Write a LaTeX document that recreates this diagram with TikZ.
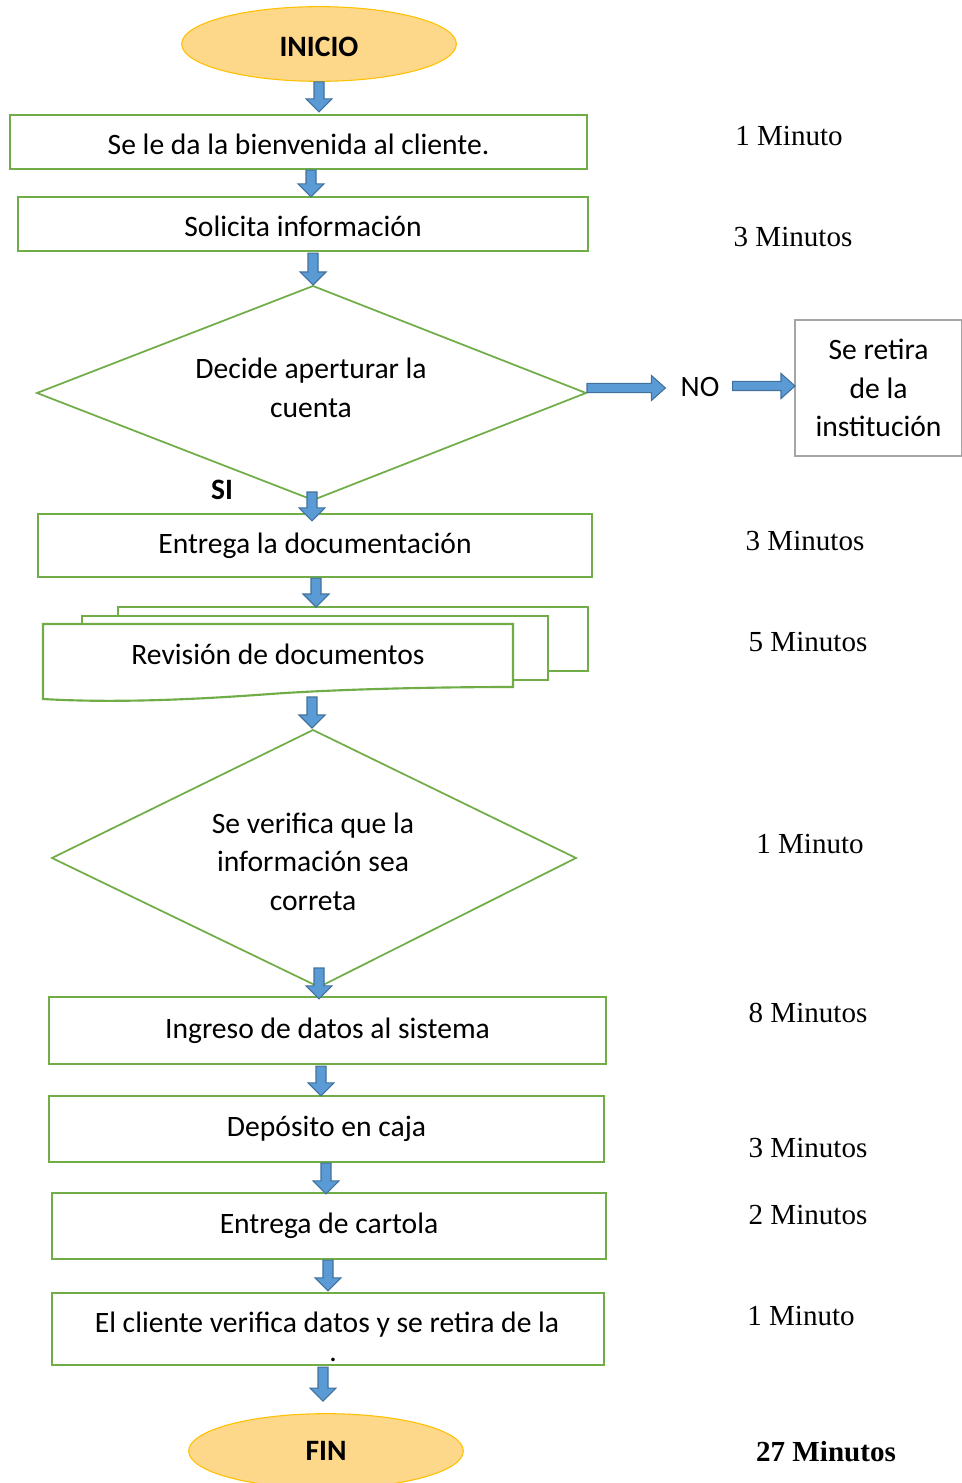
\documentclass[tikz,border=0pt]{standalone}
\usepackage{fontspec}
\setmainfont{Liberation Serif}
\newfontfamily\calfont{Carlito}
\usetikzlibrary{shapes.geometric,calc}
\definecolor{gbord}{HTML}{70AD47}
\definecolor{bfill}{HTML}{5B9BD5}
\definecolor{bline}{HTML}{41719C}
\definecolor{ofill}{HTML}{FED88A}
\definecolor{oline}{HTML}{FFC000}
\definecolor{grayline}{HTML}{A5A5A5}
\tikzset{
  cfont/.style={font=\calfont\fontsize{22.2}{29}\selectfont},
  procbox/.style={draw=gbord, line width=1.6pt, fill=white, cfont, align=center, inner sep=0pt},
  lowtext/.style={text height=18.5pt, text depth=0pt},
  decline/.style={draw=gbord, line width=1.3pt, fill=white, line join=miter},
  termbox/.style={ellipse, draw=oline, line width=0.8pt, fill=ofill, font=\calfont\bfseries\fontsize{22.2}{29}\selectfont, inner sep=0pt, minimum width=206pt, minimum height=56pt},
  blockarr/.style={draw=bline, fill=bfill, line width=0.8pt, line join=miter},
  timelbl/.style={font=\fontsize{21.8}{26}\selectfont, inner sep=0pt},
  plaintxt/.style={cfont, inner sep=0pt, align=center},
  docline/.style={draw=gbord, line width=1.6pt, fill=white, line join=miter},
}
% vertical block arrow: x, from, dy1, to, dy2 (px, positive = down)
\newcommand\varr[5]{%
  \draw[blockarr] let \p1=($(#2)+(0,#3)$), \p2=($(#4)+(0,#5)$), \p3=(#1,0) in
    (\x3-3.75pt,\y1) -- (\x3+3.75pt,\y1) -- (\x3+3.75pt,\y2+9.75pt) -- (\x3+9.75pt,\y2+9.75pt)
    -- (\x3,\y2) -- (\x3-9.75pt,\y2+9.75pt) -- (\x3-3.75pt,\y2+9.75pt) -- cycle;}
% horizontal block arrow: y, from, dx1, to, dx2
\newcommand\harr[5]{%
  \draw[blockarr] let \p1=($(#2)+(#3,0)$), \p2=($(#4)+(#5,0)$), \p3=(0,#1) in
    (\x1,\y3+3.4pt) -- (\x2-10.5pt,\y3+3.4pt) -- (\x2-10.5pt,\y3+9.4pt) -- (\x2,\y3)
    -- (\x2-10.5pt,\y3-9.4pt) -- (\x2-10.5pt,\y3-3.4pt) -- (\x1,\y3-3.4pt) -- cycle;}
\begin{document}
\begin{tikzpicture}[x=0.75pt,y=-0.75pt]
\useasboundingbox (0,0) rectangle (961,1483);
\fill[white] (0,0) rectangle (961,1483);

% nodes
\node[termbox, lowtext] (ini) at (319,44) {INICIO};
\node[procbox, lowtext, minimum width=432.75pt, minimum height=40.5pt] (b1) at (298.5,142) {Se le da la bienvenida al cliente.};
\node[procbox, lowtext, minimum width=427.5pt, minimum height=40.5pt] (b2) at (303,224) {Solicita información};

% decision 1
\coordinate (d1n) at (313,286);
\coordinate (d1e) at (586,393);
\coordinate (d1s) at (313,500);
\coordinate (d1w) at (37,393);
\draw[decline] (d1n) -- (d1e) -- (d1s) -- (d1w) -- cycle;
\node[plaintxt] (d1) at (311,387.5) {Decide aperturar la\\cuenta};
\node[plaintxt, font=\calfont\bfseries\fontsize{22.2}{29}\selectfont] (si) at (222,490) {SI};

\node[procbox, minimum width=415.5pt, minimum height=47.25pt] (b3) at (315,545.5) {Entrega la documentación};

% multi-document
\draw[docline] (118,616) -- (118,607) -- (588,607) -- (588,671) -- (548,671);
\draw[docline] (82,624) -- (82,616) -- (548,616) -- (548,680) -- (513,680);
\draw[docline] (43,624) -- (513,624) -- (513,687)
  .. controls (440,687) and (340,689) .. (270,694)
  .. controls (190,700) and (110,703) .. (43,699) -- cycle;
\node[plaintxt] (doc) at (278,654) {Revisión de documentos};
\coordinate (mdtop) at (316,607);
\coordinate (mdbot) at (312,697);

% decision 2
\coordinate (d2n) at (313,730);
\coordinate (d2e) at (576,858);
\coordinate (d2s) at (319,987);
\coordinate (d2w) at (52,858);
\draw[decline] (d2n) -- (d2e) -- (d2s) -- (d2w) -- cycle;
\node[plaintxt] (d2) at (313,861.5) {Se verifica que la\\información sea\\correta};

\node[procbox, minimum width=417.75pt, minimum height=50.25pt] (b4) at (327.5,1030.5) {Ingreso de datos al sistema};
\node[procbox, minimum width=416.25pt, minimum height=49.5pt] (b5) at (326.5,1129) {Depósito en caja};
\node[procbox, minimum width=415.5pt, minimum height=49.5pt] (b6) at (329,1226) {Entrega de cartola};
\node[procbox, minimum width=414pt, minimum height=54pt] (b7) at (328,1329) {};
\node[plaintxt, font=\calfont\fontsize{22.2}{21.75}\selectfont] (b7t) at (327,1337) {El cliente verifica datos y se retira de la\\\hspace*{9pt}.};
\node[termbox] (fin) at (326,1451) {FIN};

% NO branch
\node[plaintxt] (no) at (700,387) {NO};
\node[draw=grayline, line width=1.5pt, fill=white, cfont, align=center, inner sep=0pt,
      minimum width=125.25pt, minimum height=101.25pt] (ret) at (878.5,388) {Se retira\\de la\\institución};

% arrows
\varr{319}{ini.south}{0}{b1.north}{-2}
\varr{311}{b1.south}{0}{b2.north}{1}
\varr{313}{b2.south}{1}{d1n}{-1}
\varr{312}{d1s}{-8}{b3.north}{8}
\varr{316}{b3.south}{0}{mdtop}{0}
\varr{312}{mdbot}{0}{d2n}{-2}
\varr{319}{d2s}{-19}{b4.north}{3}
\varr{321}{b4.south}{1}{b5.north}{1}
\varr{326}{b5.south}{0}{b6.north}{2}
\varr{328}{b6.south}{0}{b7.north}{-1}
\varr{323}{b7.south}{1}{fin.north}{-12}
\harr{388}{d1e}{1}{no.west}{-15}
\harr{386}{no.east}{13}{ret.west}{1}

% times
\node[timelbl] (t1) at (789,136) {1 Minuto};
\node[timelbl] (t2) at (793,237) {3 Minutos};
\node[timelbl] (t3) at (805,541) {3 Minutos};
\node[timelbl] (t4) at (808,642) {5 Minutos};
\node[timelbl] (t5) at (810,844) {1 Minuto};
\node[timelbl] (t6) at (808,1013) {8 Minutos};
\node[timelbl] (t7) at (808,1148) {3 Minutos};
\node[timelbl] (t8) at (808,1215) {2 Minutos};
\node[timelbl] (t9) at (801,1316) {1 Minuto};
\node[timelbl, font=\bfseries\fontsize{21.8}{26}\selectfont] (t10) at (826,1452) {27 Minutos};
\end{tikzpicture}
\end{document}
